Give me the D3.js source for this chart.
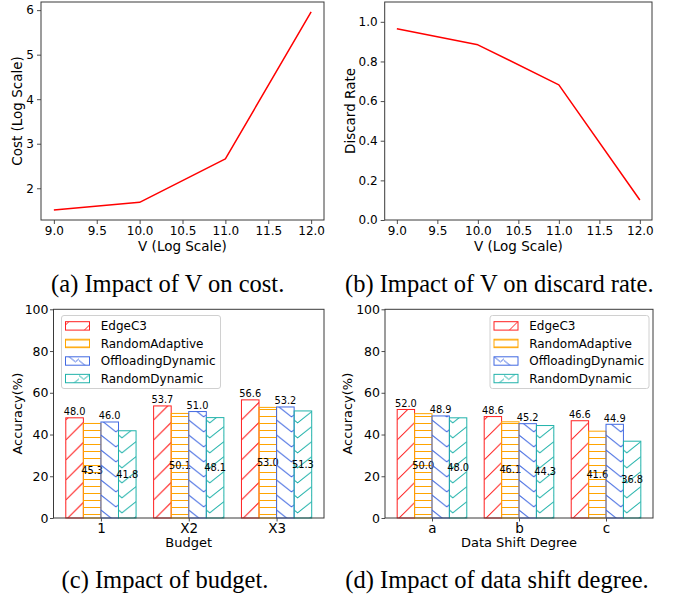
<!DOCTYPE html>
<html><head><meta charset="utf-8">
<script src="https://cdn.jsdelivr.net/npm/d3@7"></script>
<style>
body{margin:0;background:#fff}
svg{display:block;background:#fff}
text{font-family:"DejaVu Sans",sans-serif;fill:#000}
</style>
</head><body>
<svg id="chart" width="673" height="597"></svg>
<script>
// ---------------- data ----------------
const vValues = [9.0, 10.0, 11.0, 12.0];
const costValues = [1.51, 1.685, 2.66, 5.96];
const discardValues = [0.965, 0.884, 0.682, 0.101];
const vTicks = [9.0, 9.5, 10.0, 10.5, 11.0, 11.5, 12.0];
const costTicks = [2, 3, 4, 5, 6];
const discardTicks = [0.0, 0.2, 0.4, 0.6, 0.8, 1.0];
const discardLimits = [0, 1.1];

const methods = ["EdgeC3", "RandomAdaptive", "OffloadingDynamic", "RandomDynamic"];
const methodColors = ["#ff2020", "#ffa500", "#4169e1", "#20b2aa"];

const budgetCategories = ["1", "X2", "X3"];
const budgetEdgeC3 = [48.0, 53.7, 56.6];
const budgetRandomAdaptive = [45.3, 50.1, 53.0];
const budgetOffloadingDynamic = [46.0, 51.0, 53.2];
const budgetRandomDynamic = [41.8, 48.1, 51.3];

const shiftCategories = ["a", "b", "c"];
const shiftEdgeC3 = [52.0, 48.6, 46.6];
const shiftRandomAdaptive = [50.0, 46.1, 41.6];
const shiftOffloadingDynamic = [48.9, 45.2, 44.9];
const shiftRandomDynamic = [48.0, 44.3, 36.8];

const accuracyTicks = [0, 20, 40, 60, 80, 100];
const accuracyLimits = [0, 100];

const captions = ["(a) Impact of V on cost.", "(b) Impact of V on discard rate.",
                  "(c) Impact of budget.", "(d) Impact of data shift degree."];

// ---------------- helpers ----------------
const svg = d3.select("#chart");
svg.append("rect").attr("width", 673).attr("height", 597).attr("fill", "#fff");
const defs = svg.append("defs");
const FRAME = "#3a3a3a";

function padded(lo, hi) { const m = (hi - lo) * 0.05; return [lo - m, hi + m]; }

function styleAxis(g, size) {
  g.select(".domain").remove();
  g.selectAll(".tick line").attr("stroke", FRAME).attr("stroke-width", 0.9);
  g.selectAll(".tick text").attr("font-family", "DejaVu Sans").attr("font-size", size).attr("fill", "#000");
  g.attr("font-family", "DejaVu Sans");
}

function frame(box) {
  svg.append("rect").attr("x", box.l).attr("y", box.t)
    .attr("width", box.r - box.l).attr("height", box.b - box.t)
    .attr("fill", "none").attr("stroke", FRAME).attr("stroke-width", 1);
}

function caption(text, cx, baseline) {
  svg.append("text").attr("x", cx).attr("y", baseline).attr("text-anchor", "middle")
    .attr("font-size", 24.5)
    .style("font-family", "'Liberation Serif','Times New Roman',serif")
    .text(text);
}

function linePanel(box, xs, ys, yDomain, yTicks, yFmt, yLabel, yLabelX, xLabel) {
  const x = d3.scaleLinear().domain(padded(d3.min(xs), d3.max(xs))).range([box.l, box.r]);
  const y = d3.scaleLinear().domain(yDomain).range([box.b, box.t]);
  const gx = svg.append("g").attr("transform", `translate(0,${box.b})`)
    .call(d3.axisBottom(x).tickValues(vTicks).tickFormat(d3.format(".1f")).tickSize(4).tickPadding(2.5));
  styleAxis(gx, 12);
  const gy = svg.append("g").attr("transform", `translate(${box.l},0)`)
    .call(d3.axisLeft(y).tickValues(yTicks).tickFormat(yFmt).tickSize(4).tickPadding(3));
  styleAxis(gy, 12);
  svg.append("path").datum(xs.map((v, i) => [v, ys[i]]))
    .attr("fill", "none").attr("stroke", "#ff0000").attr("stroke-width", 1.5)
    .attr("stroke-linejoin", "round")
    .attr("d", d3.line().x(d => x(d[0])).y(d => y(d[1])));
  frame(box);
  svg.append("text").attr("x", (box.l + box.r) / 2).attr("y", 250.8).attr("text-anchor", "middle")
    .attr("font-size", 13.5).text(xLabel);
  svg.append("text").attr("transform", `translate(${yLabelX},${(box.t + box.b) / 2}) rotate(-90)`)
    .attr("text-anchor", "middle").attr("font-size", 13.5).text(yLabel);
}

function makePattern(id, kind, color, x0, w) {
  const P = kind === 1 ? 7 : (kind === 0 ? 20 : 15);
  const p = defs.append("pattern").attr("id", id).attr("patternUnits", "userSpaceOnUse")
    .attr("x", x0).attr("y", 0).attr("width", w).attr("height", P);
  let d = "";
  const s = 0.8;
  for (let k = -2; k <= 2; k++) {
    const y0 = k * P;
    if (kind === 0) d += `M0,${y0 + P}L${w},${y0 + P - w}`;
    else if (kind === 1) d += `M-1,${y0 + P / 2}L${w + 1},${y0 + P / 2}`;
    else if (kind === 2) d += `M0,${y0}L${0.85 * w},${y0 + 0.85 * w * s}L${w},${y0 + 0.7 * w * s}`;
    else d += `M0,${y0}L${0.2 * w},${y0 + 0.2 * w * s}L${w},${y0 - 0.6 * w * s}`;
  }
  p.append("path").attr("d", d).attr("fill", "none").attr("stroke", color).attr("stroke-width", 1);
  return `url(#${id})`;
}

function barPanel(tag, box, cats, series, xLabel, yLabelX, legendX) {
  const nS = series.length, bw = 0.2;
  const x = d3.scaleLinear().domain(padded(-bw * nS / 2, cats.length - 1 + bw * nS / 2)).range([box.l, box.r]);
  const y = d3.scaleLinear().domain(accuracyLimits).range([box.b, box.t]);
  const wpx = x(bw) - x(0);
  const gx = svg.append("g").attr("transform", `translate(0,${box.b})`)
    .call(d3.axisBottom(x).tickValues(d3.range(cats.length)).tickFormat(i => cats[i]).tickSize(3.5).tickPadding(1.5));
  styleAxis(gx, 13.5);
  const gy = svg.append("g").attr("transform", `translate(${box.l},0)`)
    .call(d3.axisLeft(y).tickValues(accuracyTicks).tickFormat(d3.format("d")).tickSize(3.5).tickPadding(1.5));
  styleAxis(gy, 12.5);
  series.forEach((vals, si) => {
    const off = -bw * nS / 2 + si * bw;
    const fill = makePattern(`${tag}-p${si}`, si, methodColors[si], x(off), wpx);
    const g = svg.append("g");
    g.selectAll("rect").data(vals).join("rect")
      .attr("x", (v, i) => x(i + off)).attr("width", wpx)
      .attr("y", v => y(v)).attr("height", v => y(0) - y(v))
      .attr("fill", fill).attr("stroke", methodColors[si]).attr("stroke-width", 1);
    g.selectAll("text").data(vals).join("text")
      .attr("x", (v, i) => x(i + off + bw / 2))
      .attr("y", v => (si % 2 === 0) ? y(v) - 2.5 : y(v / 2))
      .attr("dy", (si % 2 === 0) ? 0 : "0.35em")
      .attr("text-anchor", "middle").attr("font-size", 9.8)
      .text(v => v.toFixed(1));
  });
  frame(box);
  svg.append("text").attr("x", (box.l + box.r) / 2).attr("y", 546.7).attr("text-anchor", "middle")
    .attr("font-size", 13).text(xLabel);
  svg.append("text").attr("transform", `translate(${yLabelX},${(box.t + box.b) / 2}) rotate(-90)`)
    .attr("text-anchor", "middle").attr("font-size", 13).text("Accuracy(%)");
  // legend
  const lg = svg.append("g").attr("transform", `translate(${legendX},315.5)`);
  lg.append("rect").attr("width", 159).attr("height", 73).attr("rx", 2.5)
    .attr("fill", "#fff").attr("fill-opacity", 0.85).attr("stroke", "#d0d0d0").attr("stroke-width", 1);
  methods.forEach((m, si) => {
    const yy = 6.2 + si * 17.55;
    const pf = makePattern(`${tag}-l${si}`, si, methodColors[si], legendX + 4, 24);
    lg.append("rect").attr("x", 4).attr("y", yy).attr("width", 24).attr("height", 8.4)
      .attr("fill", pf).attr("stroke", methodColors[si]).attr("stroke-width", 1);
    lg.append("text").attr("x", 39.2).attr("y", yy + 8.6).attr("font-size", 12).text(m);
  });
}

// ---------------- panels ----------------
const boxA = {l: 41, r: 324, t: 2, b: 220};
const boxB = {l: 384.7, r: 652, t: 2, b: 220};
const boxC = {l: 53.5, r: 324, t: 309.3, b: 518};
const boxD = {l: 385, r: 653, t: 309.3, b: 518};

linePanel(boxA, vValues, costValues, padded(d3.min(costValues), d3.max(costValues)), costTicks,
  d3.format("d"), "Cost (Log Scale)", 22, "V (Log Scale)");
linePanel(boxB, vValues, discardValues, discardLimits, discardTicks,
  d3.format(".1f"), "Discard Rate", 355, "V (Log Scale)");

barPanel("c", boxC, budgetCategories,
  [budgetEdgeC3, budgetRandomAdaptive, budgetOffloadingDynamic, budgetRandomDynamic],
  "Budget", 21.5, 61.5);
barPanel("d", boxD, shiftCategories,
  [shiftEdgeC3, shiftRandomAdaptive, shiftOffloadingDynamic, shiftRandomDynamic],
  "Data Shift Degree", 352, 490);

caption(captions[0], 167.7, 292);
caption(captions[1], 499.3, 292);
caption(captions[2], 165, 588);
caption(captions[3], 497, 588);
</script>
</body></html>
